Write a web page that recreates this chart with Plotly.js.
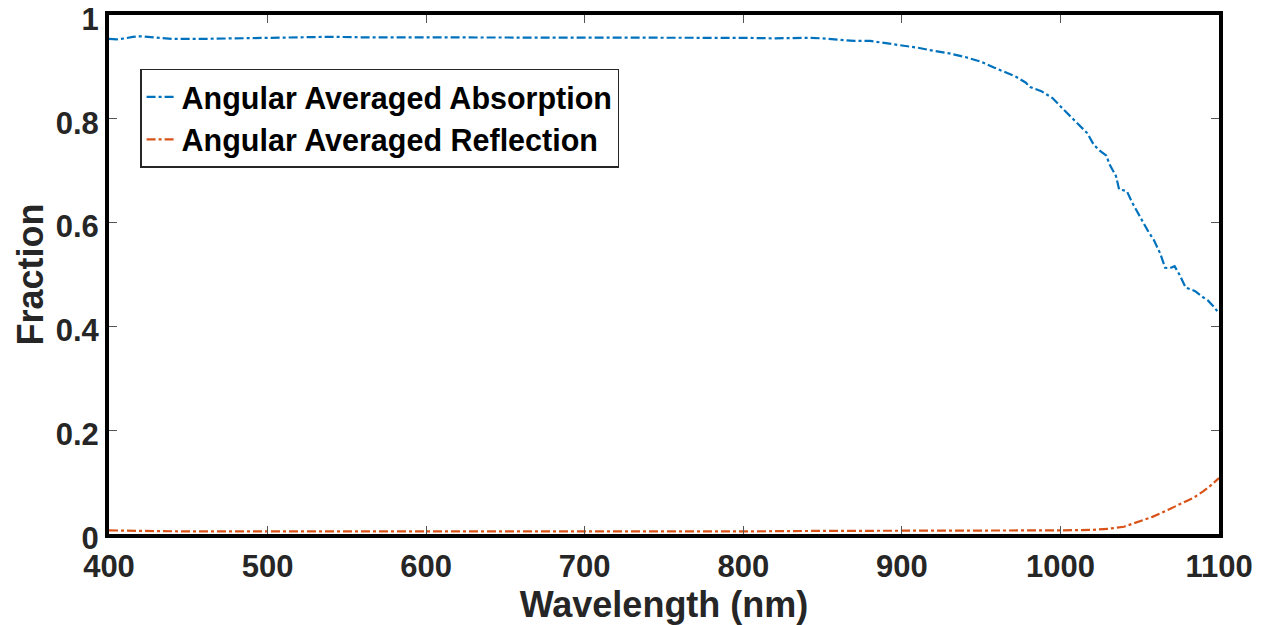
<!DOCTYPE html>
<html>
<head>
<meta charset="utf-8">
<script src="https://cdn.plot.ly/plotly-3.0.1.min.js"></script>
<style>html,body{margin:0;padding:0;background:#fff;}#chart{width:1268px;height:625px;}</style>
</head>
<body>
<div id="chart"></div>
<script>
const absWavelength = [400,405,410,415,420,430,440,460,480,500,520,540,560,580,600,620,640,660,680,700,720,740,760,780,800,820,840,850,860,870,880,890,900,910,920,930,940,950,958,965,972,978,981,988,995,1000,1006,1012,1017,1021,1025,1029,1031,1035,1037,1040,1042,1045,1050,1055,1059,1063,1066,1069,1072,1075,1079,1082,1085,1089,1093,1097,1100];
const absorption = [0.954,0.953,0.955,0.958,0.959,0.956,0.954,0.954,0.955,0.957,0.957,0.958,0.957,0.957,0.957,0.957,0.957,0.957,0.957,0.957,0.957,0.957,0.956,0.956,0.956,0.955,0.956,0.955,0.952,0.950,0.950,0.946,0.941,0.937,0.931,0.926,0.919,0.910,0.899,0.890,0.881,0.870,0.861,0.853,0.840,0.824,0.806,0.789,0.772,0.750,0.738,0.729,0.712,0.690,0.664,0.662,0.660,0.640,0.612,0.585,0.566,0.540,0.513,0.512,0.516,0.500,0.475,0.471,0.468,0.458,0.450,0.437,0.425];
const refWavelength = [400,410,420,450,500,550,600,650,700,750,800,850,900,950,1000,1020,1030,1040,1046,1052,1058,1064,1071,1077,1084,1090,1095,1100];
const reflection = [0.007,0.007,0.006,0.005,0.005,0.004,0.005,0.005,0.005,0.005,0.005,0.006,0.006,0.006,0.007,0.008,0.010,0.014,0.020,0.026,0.033,0.041,0.051,0.060,0.070,0.082,0.094,0.108];
const seriesNames = ['Angular Averaged Absorption','Angular Averaged Reflection'];
const xTicks = [400,500,600,700,800,900,1000,1100];
const yTicks = [0,0.2,0.4,0.6,0.8,1];
const yTickText = ['0','0.2','0.4','0.6','0.8','1'];

const FONT = 'Liberation Sans, Arial, sans-serif';
const traces = [
  {x: absWavelength, y: absorption, name: seriesNames[0], mode: 'lines',
   line: {color: '#0072BD', width: 2.2, dash: 'dashdot'}},
  {x: refWavelength, y: reflection, name: seriesNames[1], mode: 'lines',
   line: {color: '#D95319', width: 2.2, dash: 'dashdot'}}
];
const axisCommon = {
  showline: true, linewidth: 4, linecolor: '#000', mirror: 'ticks',
  ticks: 'inside', ticklen: 8, tickwidth: 1, tickcolor: '#555',
  showgrid: false, zeroline: false, ticklabeloverflow: 'allow',
  tickfont: {family: FONT, size: 31, color: '#262626', weight: 'bold'}
};
const layout = {
  width: 1268, height: 625,
  margin: {l: 109, r: 49, t: 15, b: 91},
  paper_bgcolor: '#fff', plot_bgcolor: '#fff',
  showlegend: true,
  legend: {x: 0.028, y: 0.896, xanchor: 'left', yanchor: 'top',
    bgcolor: '#fff', bordercolor: '#262626', borderwidth: 1.5,
    font: {family: FONT, size: 30.5, color: '#000', weight: 'bold'},
    tracegroupgap: 0, itemwidth: 30},
  xaxis: Object.assign({}, axisCommon, {
    range: [400, 1100], tickvals: xTicks, ticktext: xTicks.map(String),
    ticklabelstandoff: 2,
    title: {text: 'Wavelength (nm)', standoff: 2,
      font: {family: FONT, size: 36, color: '#262626', weight: 'bold'}}
  }),
  yaxis: Object.assign({}, axisCommon, {
    range: [0, 1], tickvals: yTicks, ticktext: yTickText,
    ticklabelshift: 4,
    title: {text: 'Fraction', standoff: 2,
      font: {family: FONT, size: 36, color: '#262626', weight: 'bold'}}
  })
};
Plotly.newPlot('chart', traces, layout, {displayModeBar: false, staticPlot: true});
</script>
</body>
</html>
